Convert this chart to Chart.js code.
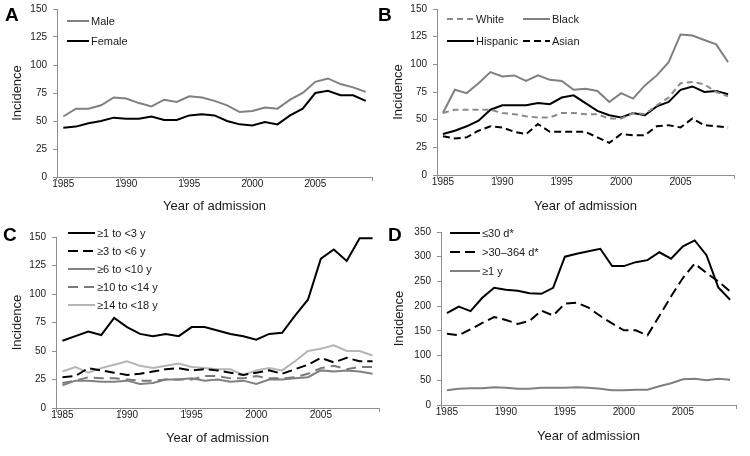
<!DOCTYPE html>
<html>
<head>
    <title>Incidence by year of admission</title>
    <meta charset="UTF-8">
    <script src="https://cdn.jsdelivr.net/npm/chart.js@4.4.1/dist/chart.umd.min.js"></script>
    <style>
        body { margin: 0; background: #fff; }
        #wrap { position: relative; width: 750px; height: 456px; overflow: hidden; }
        .panel { position: absolute; }
        .tag { position: absolute; font: bold 19px "Liberation Sans", Arial, sans-serif; color: #000; line-height: 1; }
    </style>
</head>
<body>
<div id="wrap">
    <div class="panel" style="left:0;top:0"><canvas id="chartA" width="375" height="228"></canvas></div>
    <div class="panel" style="left:375px;top:0"><canvas id="chartB" width="375" height="228"></canvas></div>
    <div class="panel" style="left:0;top:228px"><canvas id="chartC" width="380" height="228"></canvas></div>
    <div class="panel" style="left:375px;top:218px"><canvas id="chartD" width="375" height="238"></canvas></div>
    <div class="tag" style="left:5px;top:5px">A</div>
    <div class="tag" style="left:378px;top:5px">B</div>
    <div class="tag" style="left:3px;top:225px">C</div>
    <div class="tag" style="left:388px;top:225px">D</div>
</div>

<script>
    // categories
    const years = [1985, 1986, 1987, 1988, 1989, 1990, 1991, 1992, 1993, 1994, 1995, 1996, 1997,
                   1998, 1999, 2000, 2001, 2002, 2003, 2004, 2005, 2006, 2007, 2008, 2009];

    // A - sex
    const male   = [54, 61, 61, 64, 71, 70, 66, 63, 69, 67, 72, 71, 68, 64, 58, 59, 62, 61, 69, 75, 85, 88, 83, 80, 76];
    const female = [44, 45, 48, 50, 53, 52, 52, 54, 51, 51, 55, 56, 55, 50, 47, 46, 49, 47, 55, 61, 75, 77, 73, 73, 68];

    // B - race/ethnicity
    const white    = [56, 59, 59, 59, 59, 56, 55, 53, 52, 52, 56, 56, 55, 55, 51, 51, 56, 55, 63, 70, 83, 84, 82, 75, 71];
    const black    = [56, 77, 74, 83, 93, 89, 90, 85, 90, 86, 85, 77, 78, 76, 66, 74, 69, 81, 90, 102, 127, 126, 122, 118, 102];
    const hispanic = [37, 40, 44, 49, 59, 63, 63, 63, 65, 64, 70, 72, 65, 58, 54, 52, 56, 54, 62, 66, 77, 80, 75, 76, 73];
    const asian    = [35, 33, 34, 40, 44, 43, 39, 37, 46, 39, 39, 39, 39, 34, 29, 37, 36, 36, 44, 45, 43, 51, 45, 44, 43];

    // C - age group
    const age1to3   = [59, 63, 67, 64, 79, 71, 65, 63, 65, 63, 71, 71, 68, 65, 63, 60, 65, 66, 81, 95, 131, 139, 129, 149, 149];
    const age3to6   = [27, 28, 35, 33, 31, 29, 30, 32, 34, 35, 33, 34, 33, 31, 29, 31, 33, 30, 34, 38, 44, 40, 44, 41, 41];
    const age6to10  = [20, 24, 24, 23, 23, 24, 21, 22, 25, 25, 26, 24, 25, 23, 24, 21, 25, 25, 26, 27, 33, 32, 33, 32, 30];
    const age10to14 = [22, 24, 27, 26, 26, 25, 24, 24, 25, 25, 25, 28, 28, 26, 26, 28, 26, 26, 27, 30, 35, 37, 34, 36, 36];
    const age14to18 = [32, 36, 31, 35, 38, 41, 37, 35, 37, 39, 36, 35, 34, 34, 29, 33, 35, 33, 41, 50, 52, 55, 50, 50, 46];

    // D - age at admission, infants
    const upTo30d   = [186, 199, 190, 217, 237, 233, 231, 226, 225, 237, 300, 306, 311, 316, 281, 281, 289, 293, 309, 296, 321, 333, 303, 238, 213];
    const d30to364  = [144, 141, 153, 166, 178, 172, 164, 170, 191, 181, 205, 207, 197, 180, 165, 151, 151, 141, 180, 220, 257, 286, 267, 250, 230];
    const oneYear   = [30, 33, 34, 34, 36, 35, 33, 33, 35, 35, 35, 36, 35, 33, 30, 30, 31, 31, 38, 44, 52, 53, 50, 53, 51];

    const FONT = '"Liberation Sans", Arial, sans-serif';
    const AXIS = '#8f8f8f';
    const TEXT = '#1a1a1a';

    // legend samples drawn inside the plot, positions per canvas
    const legendPos = {
        chartA: [{ ds: 0, x: 67, y: 21, w: 22 }, { ds: 1, x: 67, y: 41, w: 22 }],
        chartB: [{ ds: 0, x: 72, y: 19, w: 27 }, { ds: 1, x: 148, y: 19, w: 27 },
                 { ds: 2, x: 72, y: 41, w: 27 }, { ds: 3, x: 148, y: 41, w: 27 }],
        chartC: [{ ds: 0, x: 68, y: 5, w: 27 }, { ds: 1, x: 68, y: 23, w: 27 }, { ds: 2, x: 68, y: 41, w: 27 },
                 { ds: 3, x: 68, y: 59, w: 27 }, { ds: 4, x: 68, y: 77, w: 27 }],
        chartD: [{ ds: 0, x: 75, y: 15, w: 30 }, { ds: 1, x: 75, y: 34, w: 30 }, { ds: 2, x: 75, y: 53, w: 30 }]
    };

    const insideLegend = {
        id: 'insideLegend',
        afterDraw(chart) {
            const items = legendPos[chart.canvas.id] || [];
            const ctx = chart.ctx;
            ctx.save();
            ctx.font = '11px ' + FONT;
            ctx.textBaseline = 'middle';
            items.forEach(it => {
                const ds = chart.data.datasets[it.ds];
                ctx.strokeStyle = ds.borderColor;
                ctx.lineWidth = ds.borderWidth;
                ctx.setLineDash(ds.borderDash || []);
                ctx.beginPath();
                ctx.moveTo(it.x, it.y);
                ctx.lineTo(it.x + it.w, it.y);
                ctx.stroke();
                ctx.fillStyle = TEXT;
                ctx.fillText(ds.label, it.x + it.w + 2, it.y + 0.5);
            });
            ctx.restore();
        }
    };

    function line(label, data, color, dash) {
        return {
            label: label,
            data: data,
            borderColor: color,
            borderWidth: 2,
            borderDash: dash || [],
            pointRadius: 0,
            tension: 0,
            fill: false
        };
    }

    function makeChart(id, datasets, cfg) {
        return new Chart(document.getElementById(id), {
            type: 'line',
            data: { labels: years, datasets: datasets },
            plugins: [insideLegend],
            options: {
                responsive: false,
                animation: false,
                layout: { padding: cfg.pad },
                plugins: { legend: { display: false }, tooltip: { enabled: false } },
                scales: {
                    x: {
                        offset: true,
                        afterFit: s => { s.height = cfg.xh; s.paddingLeft = 0; s.paddingRight = 0; },
                        border: { color: AXIS, width: 1 },
                        grid: {
                            offset: true,
                            drawOnChartArea: false,
                            tickLength: 4,
                            color: ctx => (ctx.index === undefined || ctx.index % 5 === 0) ? AXIS : 'rgba(0,0,0,0)'
                        },
                        ticks: {
                            autoSkip: false,
                            maxRotation: 0,
                            padding: -3,
                            color: TEXT,
                            font: { family: FONT, size: 10 },
                            callback: (v, i) => years[i] % 5 === 0 ? String(years[i]) : ''
                        },
                        title: { display: true, text: 'Year of admission', color: TEXT, font: { family: FONT, size: 13 } }
                    },
                    y: {
                        min: 0,
                        max: cfg.ymax,
                        afterFit: s => { s.width = cfg.yw; s.paddingTop = 0; s.paddingBottom = 0; },
                        border: { color: AXIS, width: 1 },
                        grid: { drawOnChartArea: false, tickLength: 4, color: AXIS },
                        ticks: { stepSize: cfg.ystep, padding: 6, color: TEXT, font: { family: FONT, size: 10 } },
                        title: { display: true, text: 'Incidence', color: TEXT, font: { family: FONT, size: 13 } }
                    }
                }
            }
        });
    }

    makeChart('chartA', [
        line('Male', male, '#808080'),
        line('Female', female, '#000000')
    ], { pad: { left: 6, top: 9, right: 3, bottom: 10 }, yw: 51, xh: 41, ymax: 150, ystep: 25 });

    makeChart('chartB', [
        line('White', white, '#8a8a8a', [6, 4]),
        line('Black', black, '#808080'),
        line('Hispanic', hispanic, '#000000'),
        line('Asian', asian, '#000000', [7, 4])
    ], { pad: { left: 12, top: 9, right: 16, bottom: 10 }, yw: 50, xh: 43, ymax: 150, ystep: 25 });

    makeChart('chartC', [
        line('\u22651 to <3 y', age1to3, '#000000'),
        line('\u22653 to <6 y', age3to6, '#000000', [10, 5]),
        line('\u22656 to <10 y', age6to10, '#808080'),
        line('\u226510 to <14 y', age10to14, '#7a7a7a', [10, 6]),
        line('\u226514 to <18 y', age14to18, '#b5b5b5')
    ], { pad: { left: 6, top: 9, right: 1, bottom: 6 }, yw: 50, xh: 42, ymax: 150, ystep: 25 });

    makeChart('chartD', [
        line('\u226430 d*', upTo30d, '#000000'),
        line('>30\u2013364 d*', d30to364, '#000000', [10, 5]),
        line('\u22651 y', oneYear, '#808080')
    ], { pad: { left: 13, top: 14, right: 14, bottom: 8 }, yw: 53, xh: 43, ymax: 350, ystep: 50 });
</script>
</body>
</html>
